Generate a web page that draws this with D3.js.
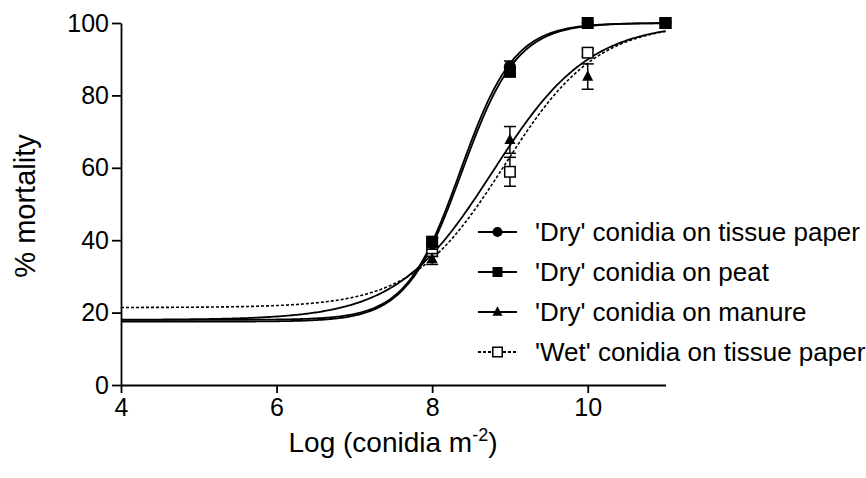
<!DOCTYPE html>
<html>
<head>
<meta charset="utf-8">
<script src="https://cdn.jsdelivr.net/npm/d3@7"></script>
<style>
  html, body { margin: 0; padding: 0; background: #fff; }
  svg { display: block; font-family: "Liberation Sans", Arial, sans-serif; }
</style>
</head>
<body>
<svg id="chart" width="866" height="478"></svg>
<script>
// ---- Data ----
const seriesNames = [
  "'Dry' conidia on tissue paper",
  "'Dry' conidia on peat",
  "'Dry' conidia on manure",
  "'Wet' conidia on tissue paper"
];
const doses = [8, 9, 10, 11];                 // Log (conidia m-2)
const tissueMean = [39, 88, 100, 100];
const tissueErr  = [1.5, 1.5, 0, 0];
const peatMean   = [39.6, 86.5, 100, 100];
const peatErr    = [1, 1, 0, 0];
const manureMean = [34.8, 67.7, 85.2, 100];
const manureErr  = [1.5, 3.7, 3.5, 0];
const wetMean    = [37, 58.9, 91.8, 100];
const wetErr     = [1.5, 4, 1, 0];

// fitted sigmoid curve parameters per series: bottom, top, logEC50, hill slope
const curveBottom = [18, 17.5, 18, 21.4];
const curveTop    = [100, 100, 100, 100];
const curveEC50   = [8.36, 8.38, 8.78, 8.93];
const curveHill   = [1.25, 1.22, 0.70, 0.734];
const curveDash   = ["", "", "", "3,2"];
const markerTypes = ["circle", "square", "triangle", "openSquare"];

const xTicks = [4, 6, 8, 10];
const yTicks = [0, 20, 40, 60, 80, 100];

const svg = d3.select("#chart");
const x = d3.scaleLinear().domain([4, 11]).range([121, 665.5]);
const y = d3.scaleLinear().domain([0, 100]).range([385, 23]);

const means = [tissueMean, peatMean, manureMean, wetMean];
const errs = [tissueErr, peatErr, manureErr, wetErr];

// curves
const line = d3.line().x(d => x(d[0])).y(d => y(d[1]));
function sig(i, xv) {
  return curveBottom[i] + (curveTop[i] - curveBottom[i]) /
    (1 + Math.pow(10, (curveEC50[i] - xv) * curveHill[i]));
}
const xs = d3.range(4, 11.0001, 0.02);
[3, 2, 0, 1].forEach(i => {
  svg.append("path")
    .attr("d", line(xs.map(v => [v, sig(i, v)])))
    .attr("fill", "none")
    .attr("stroke", "#000")
    .attr("stroke-width", i === 3 ? 1.6 : 1.8)
    .attr("stroke-dasharray", curveDash[i] || null);
});

// markers
function drawMarker(g, type, cx, cy, s) {
  if (type === "circle") {
    g.append("circle").attr("cx", cx).attr("cy", cy).attr("r", s * 0.5).attr("fill", "#000");
  } else if (type === "square") {
    g.append("rect").attr("x", cx - s / 2).attr("y", cy - s / 2).attr("width", s).attr("height", s).attr("fill", "#000");
  } else if (type === "triangle") {
    const h = s * 0.95;
    g.append("path").attr("d", `M${cx},${cy - h * 0.6}L${cx + s * 0.5},${cy + h * 0.4}L${cx - s * 0.5},${cy + h * 0.4}Z`).attr("fill", "#000");
  } else {
    g.append("rect").attr("x", cx - s / 2 + 0.75).attr("y", cy - s / 2 + 0.75).attr("width", s - 1.5).attr("height", s - 1.5)
      .attr("fill", "#fff").attr("stroke", "#000").attr("stroke-width", 1.5);
  }
}

const markerSize = [12, 12, 11, 12];
[3, 2, 0, 1].forEach(i => {
  const g = svg.append("g");
  doses.forEach((d, k) => {
    const cx = x(d), m = means[i][k], e = errs[i][k];
    if (e > 0) {
      g.append("line").attr("x1", cx).attr("x2", cx).attr("y1", y(m + e)).attr("y2", y(m - e))
        .attr("stroke", "#000").attr("stroke-width", 1.5);
      [m + e, m - e].forEach(v => g.append("line").attr("x1", cx - 6).attr("x2", cx + 6)
        .attr("y1", y(v)).attr("y2", y(v)).attr("stroke", "#000").attr("stroke-width", 1.5));
    }
    drawMarker(g, markerTypes[i], cx, y(m), markerSize[i]);
  });
});

// axes
const xAxis = svg.append("g").attr("transform", "translate(0,385)")
  .call(d3.axisBottom(x).tickValues(xTicks).tickFormat(d3.format("d")).tickSize(8).tickSizeOuter(0).tickPadding(4));
const yAxis = svg.append("g").attr("transform", "translate(121,0)")
  .call(d3.axisLeft(y).tickValues(yTicks).tickFormat(d3.format("d")).tickSize(9).tickSizeOuter(0).tickPadding(3));
[xAxis, yAxis].forEach(a => {
  a.select(".domain").attr("stroke", "#000").attr("stroke-width", 1.8);
  a.selectAll(".tick line").attr("stroke", "#000").attr("stroke-width", 1.8);
  a.selectAll(".tick text").attr("fill", "#000").attr("font-size", 25)
    .attr("font-family", "'Liberation Sans', Arial, sans-serif");
});
xAxis.selectAll(".tick text").attr("dy", "0.75em");

// axis titles
const xt = svg.append("text").attr("x", 393).attr("y", 452).attr("text-anchor", "middle")
  .attr("font-size", 28).attr("fill", "#000");
xt.append("tspan").text("Log (conidia m");
xt.append("tspan").attr("dy", -11).attr("font-size", 18).text("-2");
xt.append("tspan").attr("dy", 11).text(")");

svg.append("text").attr("transform", "translate(35,206) rotate(-90)").attr("text-anchor", "middle")
  .attr("font-size", 29).attr("fill", "#000").text("% mortality");

// legend
const legY0 = 232, legDy = 40;
seriesNames.forEach((name, i) => {
  const ly = legY0 + i * legDy;
  const g = svg.append("g");
  g.append("line").attr("x1", 478).attr("x2", 517).attr("y1", ly).attr("y2", ly)
    .attr("stroke", "#000").attr("stroke-width", 1.8).attr("stroke-dasharray", curveDash[i] || null);
  drawMarker(g, markerTypes[i], 497.5, ly, i === 3 ? 11 : 10);
  g.append("text").attr("x", 535).attr("y", ly).attr("dy", "0.36em").attr("font-size", 26)
    .attr("fill", "#000").text(name);
});
</script>
</body>
</html>
